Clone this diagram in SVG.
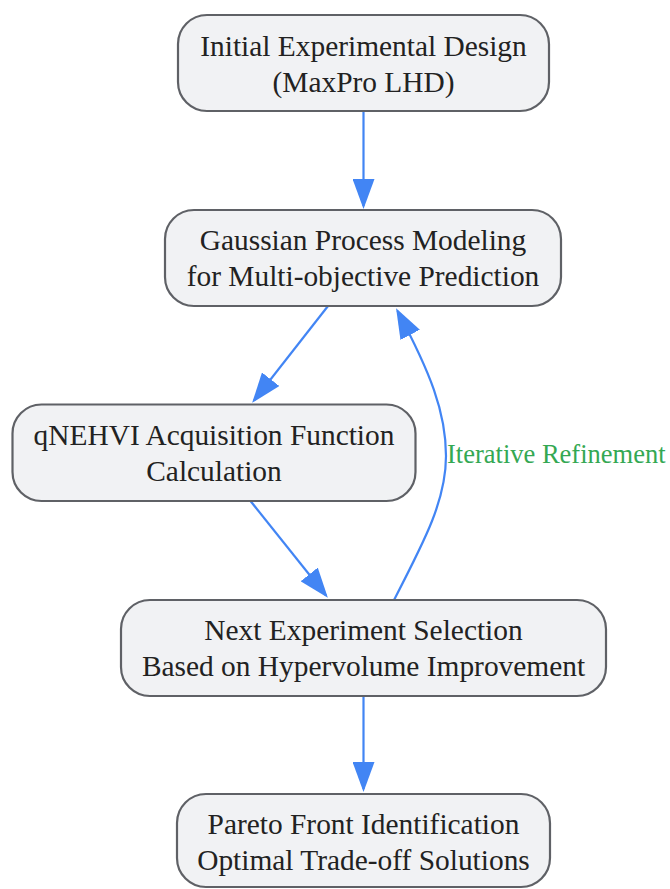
<svg xmlns="http://www.w3.org/2000/svg" width="670" height="889" viewBox="0 0 670 889">
<style>
.node rect{fill:#f1f2f4;stroke:#5f6166;stroke-width:2.2}
.node text{font-family:"Liberation Serif","Times New Roman",serif;font-size:29.4px;fill:#222;text-anchor:middle}
.edge{fill:none;stroke:#4285f4;stroke-width:2.2}
.elabel{font-family:"Liberation Serif","Times New Roman",serif;font-size:26.5px;fill:#34a853}
</style>
<defs>
<marker id="arr" markerUnits="userSpaceOnUse" viewBox="0 0 30 22" refX="27" refY="11" markerWidth="30" markerHeight="22" orient="auto">
<path d="M0,0 L30,11 L0,22 z" fill="#4285f4"/>
</marker>
</defs>
<rect width="670" height="889" fill="#fff"/>
<g id="connectors">
<path class="edge" d="M363.5,111 L363.5,206" marker-end="url(#arr)"/>
<path class="edge" d="M328,306 L254,400.5" marker-end="url(#arr)"/>
<path class="edge" d="M250.5,501 L326,595.5" marker-end="url(#arr)"/>
<path class="edge" d="M394,600 C425,540 446,500 446,456 C446,412 430,372 397.5,311" marker-end="url(#arr)"/>
<path class="edge" d="M363.5,696 L363.5,789" marker-end="url(#arr)"/>
<text class="elabel" x="447" y="463">Iterative Refinement</text>
</g>
<g id="n1" class="node">
<rect x="178" y="15" width="371" height="96" rx="29"/>
<text x="363.5" y="55.5">Initial Experimental Design</text>
<text x="363.5" y="91.5">(MaxPro LHD)</text>
</g>
<g id="n2" class="node">
<rect x="165" y="210" width="396" height="96" rx="29"/>
<text x="363" y="250">Gaussian Process Modeling</text>
<text x="363" y="286">for Multi-objective Prediction</text>
</g>
<g id="n3" class="node">
<rect x="12.5" y="404.5" width="403" height="96.5" rx="29"/>
<text x="214" y="444.5">qNEHVI Acquisition Function</text>
<text x="214" y="480.5">Calculation</text>
</g>
<g id="n4" class="node">
<rect x="121" y="600" width="485" height="96" rx="29"/>
<text x="363.5" y="640">Next Experiment Selection</text>
<text x="363.5" y="676">Based on Hypervolume Improvement</text>
</g>
<g id="n5" class="node">
<rect x="177" y="794" width="373" height="93" rx="29"/>
<text x="363.5" y="834">Pareto Front Identification</text>
<text x="363.5" y="870">Optimal Trade-off Solutions</text>
</g>
</svg>
